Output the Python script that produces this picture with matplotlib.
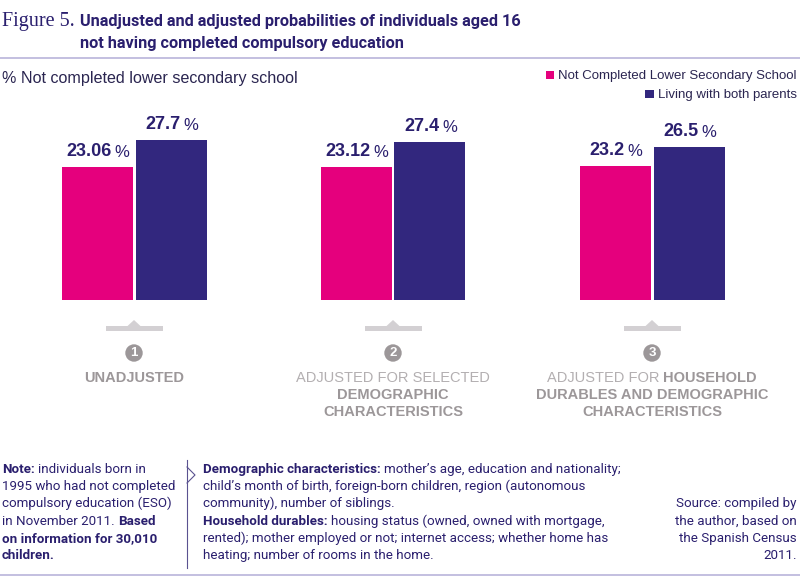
import matplotlib
matplotlib.use("Agg")
import matplotlib.pyplot as plt
import matplotlib.transforms as mtransforms
from matplotlib.patches import Rectangle, Polygon, Circle
from matplotlib.lines import Line2D

# ---------------- data ----------------
groups = ["UNADJUSTED",
          "ADJUSTED FOR SELECTED DEMOGRAPHIC CHARACTERISTICS",
          "ADJUSTED FOR HOUSEHOLD DURABLES AND DEMOGRAPHIC CHARACTERISTICS"]
series_names = ["Not Completed Lower Secondary School", "Living with both parents"]
not_completed = [23.06, 23.12, 23.2]
both_parents = [27.7, 27.4, 26.5]
label_not_completed = ["23.06", "23.12", "23.2"]
label_both_parents = ["27.7", "27.4", "26.5"]
group_numbers = ["1", "2", "3"]

PINK = "#E5007D"
NAVY = "#32277E"
TITLE = "#2A1F6E"
GRAY_B = "#9C9799"
GRAY_L = "#B3AFB1"
MARK = "#D3D0D3"
RULE = "#B9B4DA"

SANS = ["Liberation Sans", "DejaVu Sans"]
TSANS = ["Roboto", "Liberation Sans", "DejaVu Sans"]
NARROW = ["Liberation Sans Narrow", "Roboto", "DejaVu Sans"]
SERIF = ["Liberation Serif", "DejaVu Serif"]

W, H = 800, 585
fig = plt.figure(figsize=(W / 100, H / 100), dpi=100)
px = mtransforms.Affine2D().scale(1 / W, -1 / H).translate(0, 1) + fig.transFigure
renderer = fig.canvas.get_renderer()


def txt(x, y, s, **kw):
    kw.setdefault("transform", px)
    return fig.text(x, y, s, **kw)


def width_of(t):
    return t.get_window_extent(renderer).width


def mixed(x, y, segments, ha="left", size=10, family=SANS):
    """segments: list of (text, weight, color); draws them on one line."""
    arts = []
    for s, wgt, col in segments:
        arts.append(txt(0, y, s, fontsize=size, fontweight=wgt, color=col,
                        family=family, va="baseline", ha="left"))
    probe1 = txt(0, 0, "x x", fontsize=size, family=family)
    probe2 = txt(0, 0, "xx", fontsize=size, family=family)
    sp = width_of(probe1) - width_of(probe2)
    probe1.remove(); probe2.remove()
    widths = [width_of(a) for a in arts]
    total = sum(widths) + sp * (len(arts) - 1)
    if ha == "center":
        x0 = x - total / 2
    elif ha == "right":
        x0 = x - total
    else:
        x0 = x
    for a, w in zip(arts, widths):
        a.set_x(x0)
        x0 += w + sp
    return arts


# ---------------- title ----------------
txt(2, 26, "Figure 5.", fontsize=14.5, family=SERIF, color=TITLE, va="baseline")
txt(80, 26, "Unadjusted and adjusted probabilities of individuals aged 16",
    fontsize=11.7, fontweight="bold", family=TSANS, color=TITLE, va="baseline")
txt(80, 48, "not having completed compulsory education",
    fontsize=11.7, fontweight="bold", family=TSANS, color=TITLE, va="baseline")
fig.add_artist(Line2D([0, 1], [1 - 58 / H, 1 - 58 / H], transform=fig.transFigure,
                      color=RULE, lw=1.2))
fig.add_artist(Line2D([0, 1], [1 - 575 / H, 1 - 575 / H], transform=fig.transFigure,
                      color=RULE, lw=1.2))

txt(2, 83, "% Not completed lower secondary school", fontsize=11.6, family=SANS,
    color="#2A2550", va="baseline")

# ---------------- legend ----------------
for name, col, yb in zip(series_names, [PINK, NAVY], [79, 98]):
    t = txt(797, yb, name, fontsize=9.5, family=SANS, color="#2A2550",
            ha="right", va="baseline")
    x0 = t.get_window_extent(renderer).x0
    fig.add_artist(Rectangle((x0 - 13, yb - 8.5), 8.5, 8.5, transform=px, color=col, lw=0))

# ---------------- bars ----------------
bottom_px, top_px = 300, 127
ax = fig.add_axes([4.5 / W, 1 - bottom_px / H, 777 / W, (bottom_px - top_px) / H])
ax.set_xlim(-0.5, 2.5)
ax.set_ylim(0, 30)
ax.axis("off")
xs = list(range(len(groups)))
bw = 71 / 259
off = 37 / 259
ax.bar([x - off for x in xs], not_completed, width=bw, color=PINK)
ax.bar([x + off for x in xs], both_parents, width=bw, color=NAVY)

for sign, vals, labs in [(-1, not_completed, label_not_completed),
                         (1, both_parents, label_both_parents)]:
    for x, v, lab in zip(xs, vals, labs):
        t = ax.annotate(lab, (x + sign * off, v), xytext=(-6, 5), textcoords="offset points",
                        ha="center", va="bottom", fontsize=13, fontweight="heavy",
                        family=SANS, color=TITLE)
        ax.annotate("%", xy=(1, 0), xycoords=t, xytext=(2, 0), textcoords="offset points",
                    ha="left", va="bottom", fontsize=12, family=SANS, color=TITLE)

# ---------------- group markers ----------------
centers = [ax.transData.transform((x, 0))[0] for x in xs]
for c, num in zip(centers, group_numbers):
    fig.add_artist(Rectangle((c - 28.5, 326), 57, 5, transform=px, color=MARK, lw=0))
    fig.add_artist(Polygon([(c - 7, 326.5), (c, 320), (c + 7, 326.5)], closed=True,
                           transform=px, color=MARK, lw=0))
    fig.add_artist(Circle((c, 353), 8.7, transform=px, color=GRAY_B, lw=0))
    txt(c, 353.5, num, fontsize=9.5, fontweight="bold", color="white", family=SANS,
        ha="center", va="center")

SZ = 10.5
mixed(centers[0], 382, [("UNADJUSTED", "bold", GRAY_B)], ha="center", size=SZ)
mixed(centers[1], 382, [("ADJUSTED FOR SELECTED", "normal", GRAY_L)], ha="center", size=SZ)
mixed(centers[1], 399, [("DEMOGRAPHIC", "bold", GRAY_B)], ha="center", size=SZ)
mixed(centers[1], 416, [("CHARACTERISTICS", "bold", GRAY_B)], ha="center", size=SZ)
mixed(centers[2], 382, [("ADJUSTED FOR", "normal", GRAY_L), ("HOUSEHOLD", "bold", GRAY_B)],
      ha="center", size=SZ)
mixed(centers[2], 399, [("DURABLES AND DEMOGRAPHIC", "bold", GRAY_B)], ha="center", size=SZ)
mixed(centers[2], 416, [("CHARACTERISTICS", "bold", GRAY_B)], ha="center", size=SZ)

# ---------------- footer ----------------
FS = 9.6
line_y = [473, 490.2, 507.4, 524.6, 541.8, 559]
note_lines = [
    [("Note:", "bold"), ("individuals born in", "normal")],
    [("1995 who had not completed", "normal")],
    [("compulsory education (ESO)", "normal")],
    [("in November 2011.", "normal"), ("Based", "bold")],
    [("on information for 30,010", "bold")],
    [("children.", "bold")],
]
for y, segs in zip(line_y, note_lines):
    mixed(2, y, [(s, w, TITLE) for s, w in segs], size=FS, family=NARROW)

mid_lines = [
    [("Demographic characteristics:", "bold"), ("mother\u2019s age, education and nationality;", "normal")],
    [("child\u2019s month of birth, foreign-born children, region (autonomous", "normal")],
    [("community), number of siblings.", "normal")],
    [("Household durables:", "bold"), ("housing status (owned, owned with mortgage,", "normal")],
    [("rented); mother employed or not; internet access; whether home has", "normal")],
    [("heating; number of rooms in the home.", "normal")],
]
for y, segs in zip(line_y, mid_lines):
    mixed(203, y, [(s, w, TITLE) for s, w in segs], size=FS, family=NARROW)

fig.add_artist(Line2D([187, 187], [460, 568], transform=px, color="#5A5290", lw=0.8))
fig.add_artist(Line2D([187, 195, 187], [467, 475, 483], transform=px, color="#5A5290", lw=0.8))

src_lines = ["Source: compiled by", "the author, based on", "the Spanish Census", "2011."]
for y, s in zip(line_y[2:], src_lines):
    txt(797, y, s, fontsize=FS, family=NARROW, color=TITLE, ha="right", va="baseline")

fig.savefig("out.png", dpi=100)
